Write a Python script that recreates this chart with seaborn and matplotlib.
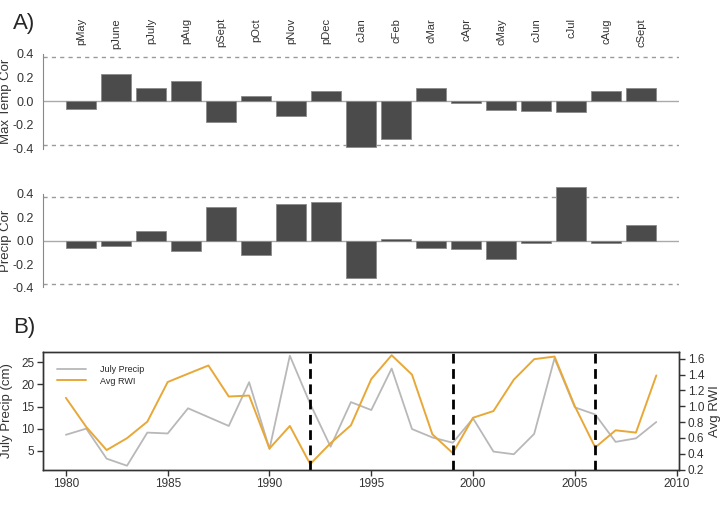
import numpy as np
import pandas as pd
import matplotlib
matplotlib.use("Agg")
import matplotlib.pyplot as plt
import matplotlib.transforms as mtrans
import seaborn as sns

# correlation of ring width with monthly climate (p = previous year, c = current)
months = ["pMay", "pJune", "pJuly", "pAug", "pSept", "pOct", "pNov", "pDec",
          "cJan", "cFeb", "cMar", "cApr", "cMay", "cJun", "cJul", "cAug", "cSept"]
temp_cor = [-0.07, 0.227, 0.11, 0.166, -0.174, 0.045, -0.129, 0.084,
            -0.385, -0.323, 0.112, -0.014, -0.073, -0.084, -0.095, 0.087, 0.107]
precip_cor = [-0.062, -0.045, 0.08, -0.09, 0.288, -0.125, 0.314, 0.331,
              -0.316, 0.015, -0.062, -0.074, -0.159, -0.02, 0.456, -0.023, 0.131]
sig_level = 0.37

years = list(range(1980, 2010))
july_precip = [8.6, 10.0, 3.2, 1.6, 9.1, 8.9, 14.6, 12.6, 10.6, 20.5,
               5.4, 26.5, 15.6, 5.9, 16.0, 14.2, 23.6, 9.9, 8.0, 6.8,
               12.3, 4.8, 4.2, 8.8, 25.9, 14.8, 13.2, 7.0, 7.8, 11.5]
avg_rwi = [1.107, 0.739, 0.447, 0.597, 0.806, 1.307, 1.412, 1.516, 1.124, 1.136,
           0.467, 0.752, 0.27, 0.534, 0.76, 1.345, 1.646, 1.40, 0.647, 0.409,
           0.856, 0.94, 1.337, 1.596, 1.629, 1.0, 0.48, 0.697, 0.668, 1.39]
break_years = [1992, 1999, 2006]

sns.set_style("white")
plt.rcParams["font.family"] = ["Liberation Sans", "DejaVu Sans"]
plt.rcParams["axes.unicode_minus"] = False

fig = plt.figure(figsize=(7.2, 5.11), dpi=100)
ax1 = fig.add_axes([0.0593, 0.7047, 0.8842, 0.1952])
ax2 = fig.add_axes([0.0593, 0.4329, 0.8842, 0.2061])
ax3 = fig.add_axes([0.0593, 0.0802, 0.8842, 0.2315])


def cor_panel(ax, vals, ylabel, ylim):
    df = pd.DataFrame({"month": months, "cor": vals})
    sns.barplot(data=df, x="month", y="cor", color="#4b4b4b", saturation=1,
                width=0.85, edgecolor="#8a8a8a", linewidth=0.6, ax=ax, zorder=3)
    ax.axhline(0, color="#aaaaaa", lw=1, zorder=2)
    for s in (sig_level, -sig_level):
        ax.axhline(s, color="#9a9a9a", lw=1, ls=(0, (3, 3)), zorder=1)
    ax.set_xlim(-1.09, 17.09)
    ax.set_ylim(*ylim)
    ax.set_xticks([])
    ax.set_xlabel("")
    ax.set_yticks([-0.4, -0.2, 0.0, 0.2, 0.4])
    ax.set_yticklabels(["-0.4", "-0.2", "0.0", "0.2", "0.4"])
    sns.despine(ax=ax, bottom=True)
    ax.spines["left"].set_bounds(-0.4, 0.4)
    ax.spines["left"].set_color("#888888")
    ax.tick_params(axis="y", length=4, width=1, color="#888888",
                   labelcolor="#333333", labelsize=9, pad=2)
    ax.set_ylabel(ylabel, fontsize=9.5, color="#333333")
    ax.yaxis.set_label_coords(-0.048, (0 - ylim[0]) / (ylim[1] - ylim[0]))


cor_panel(ax1, temp_cor, "Max Temp Cor", (-0.42, 0.42))
cor_panel(ax2, precip_cor, "Precip Cor", (-0.42, 0.48))

trans = mtrans.blended_transform_factory(ax1.transData, fig.transFigure)
for i, m in enumerate(months):
    ax1.text(i, 1 - 18 / 511, m, rotation=90, va="top", ha="center",
             fontsize=8, color="#333333", transform=trans)

# bottom panel: precip vs ring width index
sns.lineplot(x=years, y=july_precip, color="#b8b8b8", lw=1.3, ax=ax3)
ax4 = ax3.twinx()
sns.lineplot(x=years, y=avg_rwi, color="#e8a838", lw=1.4, ax=ax4)
for yr in break_years:
    ax4.axvline(yr, color="black", lw=2, ls=(0, (3.5, 2)))

ax3.set_xlim(1978.86, 2010.13)
ax3.set_ylim(0.63, 27.4)
ax4.set_ylim(0.195, 1.69)
ax3.set_xticks(range(1980, 2011, 5))
ax3.set_yticks([5, 10, 15, 20, 25])
ax4.set_yticks([0.2, 0.4, 0.6, 0.8, 1.0, 1.2, 1.4, 1.6])
ax4.set_yticklabels(["0.2", "0.4", "0.6", "0.8", "1.0", "1.2", "1.4", "1.6"])
for a in (ax3, ax4):
    for sp in a.spines.values():
        sp.set_color("#333333")
        sp.set_linewidth(1)
    a.tick_params(length=4, width=1, color="#333333", labelcolor="#333333",
                  labelsize=8.5, pad=2)
ax3.tick_params(axis="x", bottom=True)
ax3.tick_params(axis="y", left=True)
ax4.tick_params(axis="y", right=True)
ax3.set_ylabel("July Precip (cm)", fontsize=9.5, color="#333333")
ax3.yaxis.set_label_coords(-0.047, 0.5)
ax4.set_ylabel("Avg RWI", fontsize=9.5, color="#333333")
ax4.yaxis.set_label_coords(1.046, 0.5)

h1 = ax3.get_lines()[0]
h2 = ax4.get_lines()[0]
ax4.legend([h1, h2], ["July Precip", "Avg RWI"], loc="upper left",
           bbox_to_anchor=(0.022, 0.889), frameon=False, fontsize=6.5,
           handlelength=3.2, handletextpad=1.6, labelspacing=0.3,
           borderpad=0, borderaxespad=0)

fig.text(0.018, 1 - 23.5 / 511, "A)", va="center", ha="left", fontsize=16)
fig.text(0.018, 1 - 327 / 511, "B)", va="center", ha="left", fontsize=16)

fig.savefig("out.png", dpi=100)
